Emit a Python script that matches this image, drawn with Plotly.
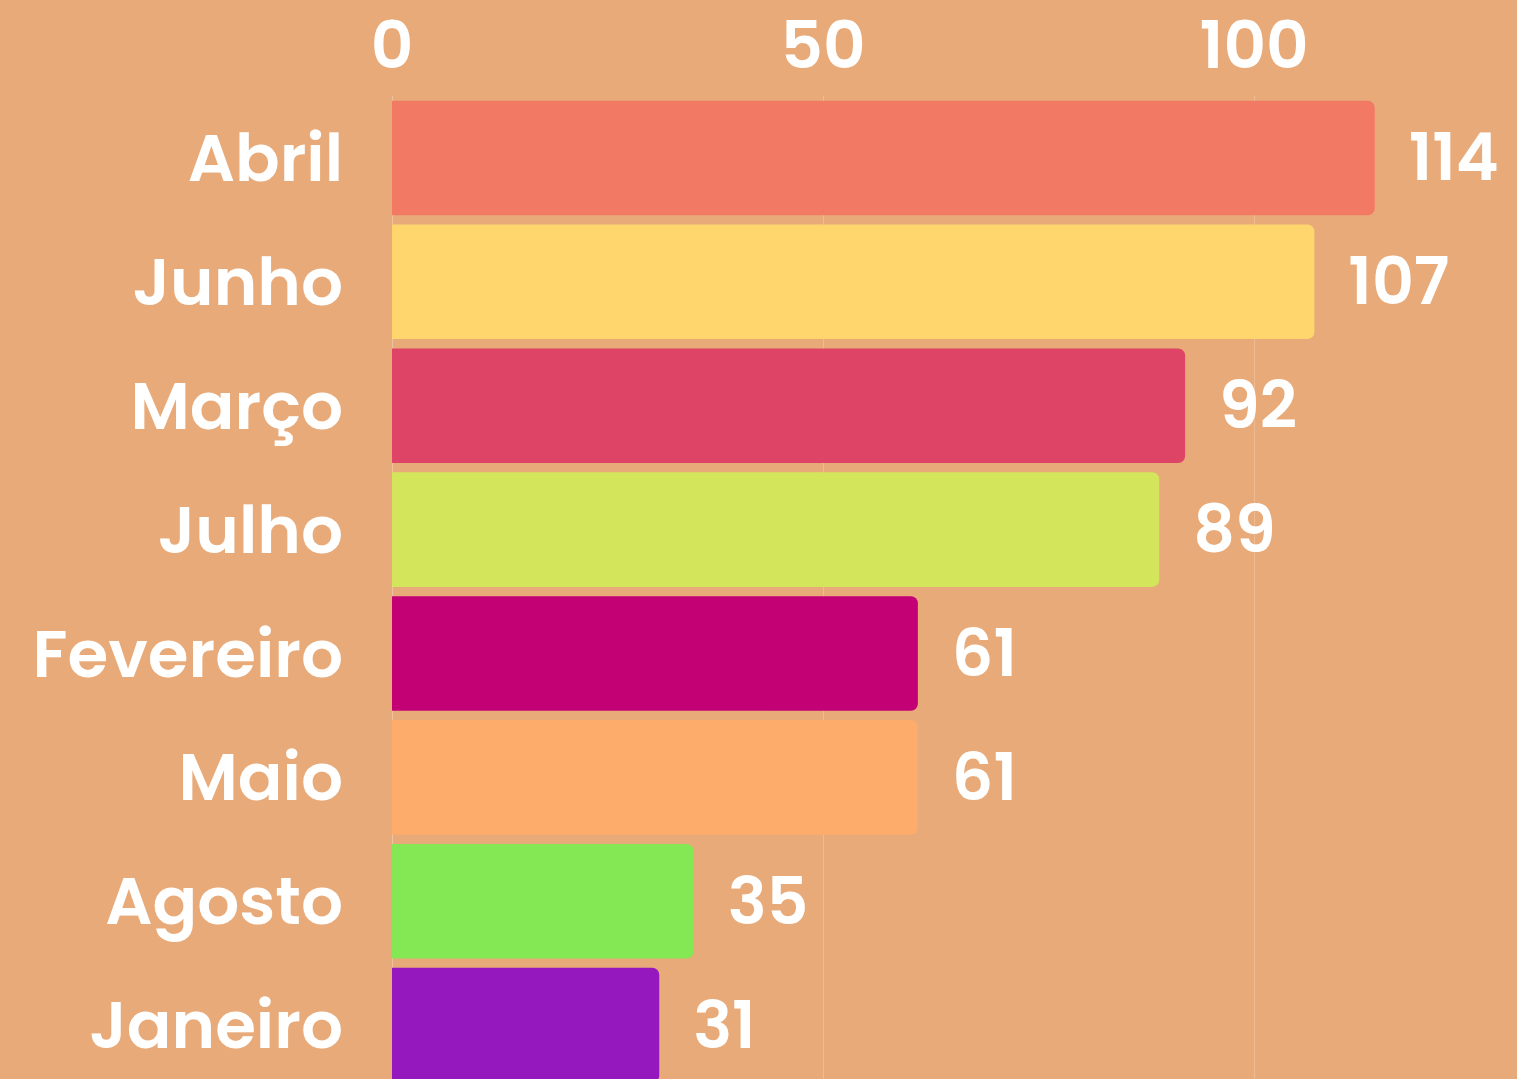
import plotly.graph_objects as go

months = ["Abril", "Junho", "Março", "Julho", "Fevereiro", "Maio", "Agosto", "Janeiro"]
values = [114, 107, 92, 89, 61, 61, 35, 31]
colors = ["#F27A64", "#FFD56E", "#DE4466", "#D3E55A", "#C40075", "#FDAC6B", "#84E855", "#9418BD"]
x_ticks = [0, 50, 100]

BG = "#E8AA78"
FONT = "Poppins, Noto Sans, Open Sans, sans-serif"

fig = go.Figure(go.Bar(
    x=values,
    y=months,
    orientation="h",
    marker=dict(color=colors, line=dict(width=0), cornerradius=7),
    text=values,
    texttemplate="  %{x}",
    textposition="outside",
    constraintext="none",
    cliponaxis=False,
    textfont=dict(family=FONT, size=65, color="white", weight=600),
    width=0.925,
))

fig.update_layout(
    width=1517, height=1079,
    paper_bgcolor=BG, plot_bgcolor=BG,
    margin=dict(l=392, r=0, t=95.5, b=0),
    showlegend=False,
    xaxis=dict(
        side="top", range=[0, 130.5], tickvals=x_ticks,
        automargin=False,
        showgrid=True, gridcolor="rgba(255,255,255,0.22)", gridwidth=1,
        zeroline=True, zerolinecolor="rgba(255,255,255,0.3)", zerolinewidth=1,
        showline=False, ticks="",
        ticklabelstandoff=14,
        tickfont=dict(family=FONT, size=66, color="white", weight=600),
    ),
    yaxis=dict(
        categoryorder="array", categoryarray=months,
        range=[7.435, -0.5],
        automargin=False,
        showgrid=False, zeroline=False, showline=False, ticks="",
        ticklabelstandoff=48,
        tickfont=dict(family=FONT, size=66, color="white", weight=600),
    ),
)

fig.write_html(
    "out.html",
    config={"displayModeBar": False},
    post_script="document.body.style.margin='0';document.body.style.overflow='hidden';",
)
